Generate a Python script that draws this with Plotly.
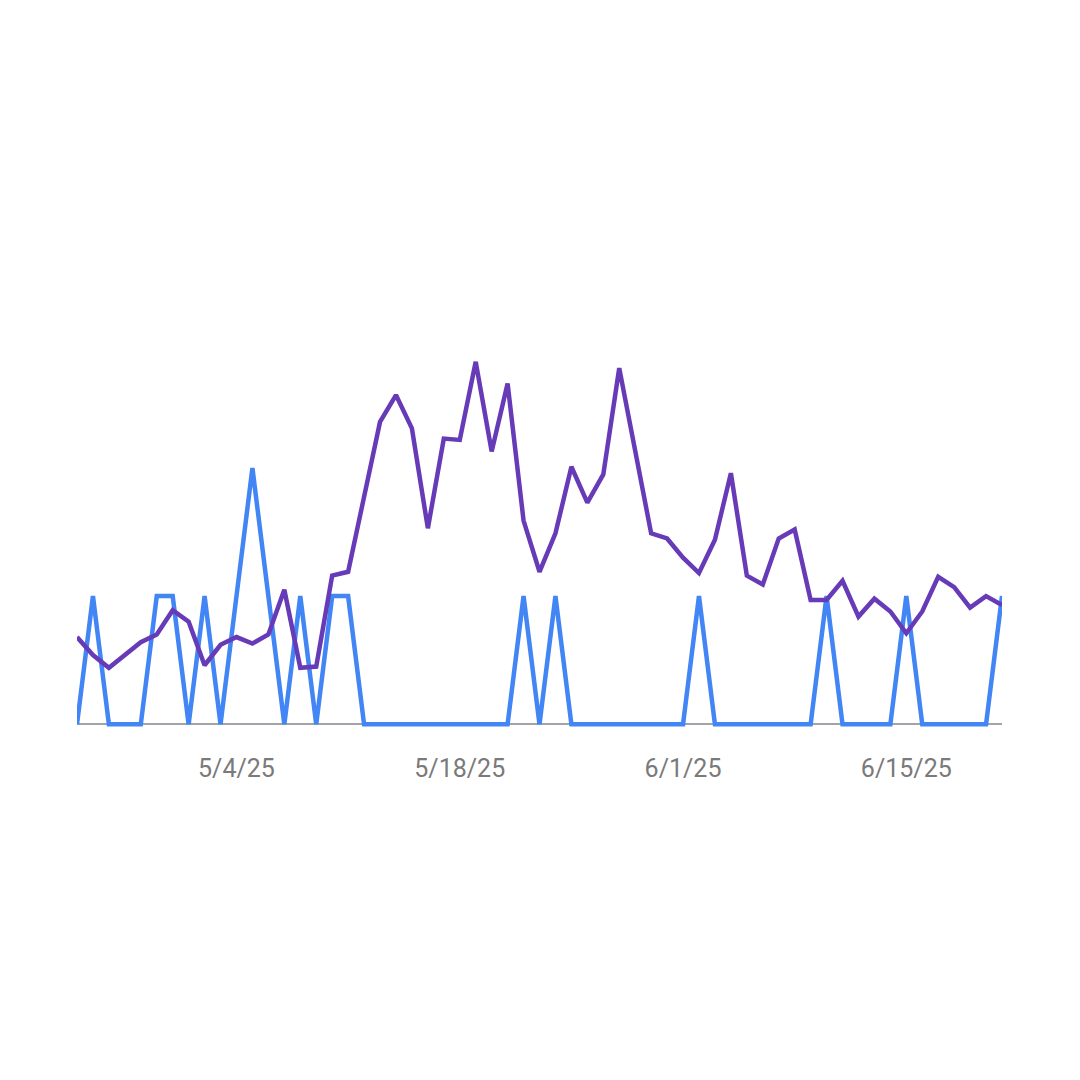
import plotly.graph_objects as go
import pandas as pd

dates = pd.date_range("2025-04-24", "2025-06-21", freq="D")

purple_values = [
    0.68, 0.54, 0.44, 0.54, 0.64, 0.70, 0.89, 0.80, 0.46, 0.62,
    0.68, 0.63, 0.70, 1.05, 0.44, 0.45, 1.16, 1.19, 1.77, 2.36,
    2.57, 2.31, 1.53, 2.23, 2.22, 2.83, 2.13, 2.66, 1.59, 1.19,
    1.49, 2.01, 1.73, 1.95, 2.78, 2.14, 1.49, 1.45, 1.30, 1.18,
    1.44, 1.96, 1.16, 1.09, 1.45, 1.52, 0.97, 0.97, 1.12, 0.84,
    0.98, 0.88, 0.71, 0.88, 1.15, 1.07, 0.91, 1.00, 0.93,
]

blue_values = [
    0, 1, 0, 0, 0, 1, 1, 0, 1, 0,
    1, 2, 1, 0, 1, 0, 1, 1, 0, 0,
    0, 0, 0, 0, 0, 0, 0, 0, 1, 0,
    1, 0, 0, 0, 0, 0, 0, 0, 0, 1,
    0, 0, 0, 0, 0, 0, 0, 1, 0, 0,
    0, 0, 1, 0, 0, 0, 0, 0, 1,
]

tick_dates = ["2025-05-04", "2025-05-18", "2025-06-01", "2025-06-15"]
tick_labels = ["5/4/25", "5/18/25", "6/1/25", "6/15/25"]

fig = go.Figure()
fig.add_trace(go.Scatter(
    x=dates, y=blue_values, mode="lines",
    line=dict(color="#4285f4", width=4.5),
    showlegend=False,
))
fig.add_trace(go.Scatter(
    x=dates, y=purple_values, mode="lines",
    line=dict(color="#673ab7", width=4.5),
    showlegend=False,
))

fig.update_layout(
    width=1080, height=1080,
    margin=dict(l=69, r=86, t=332, b=360),
    paper_bgcolor="white", plot_bgcolor="white",
    font=dict(family="Roboto", color="#7a7a7a", size=25),
)
fig.update_xaxes(
    range=[dates[0], dates[-1]],
    tickvals=tick_dates, ticktext=tick_labels,
    showgrid=False, zeroline=False, showline=False,
    ticks="", ticklabelstandoff=23,
    tickfont=dict(family="Roboto", size=25, color="#7a7a7a"),
)
fig.update_yaxes(
    range=[-0.03, 3.0],
    showgrid=False, showticklabels=False,
    zeroline=True, zerolinecolor="#a0a4a8", zerolinewidth=1.5,
    showline=False, ticks="",
)

fig.write_html("out.html")
